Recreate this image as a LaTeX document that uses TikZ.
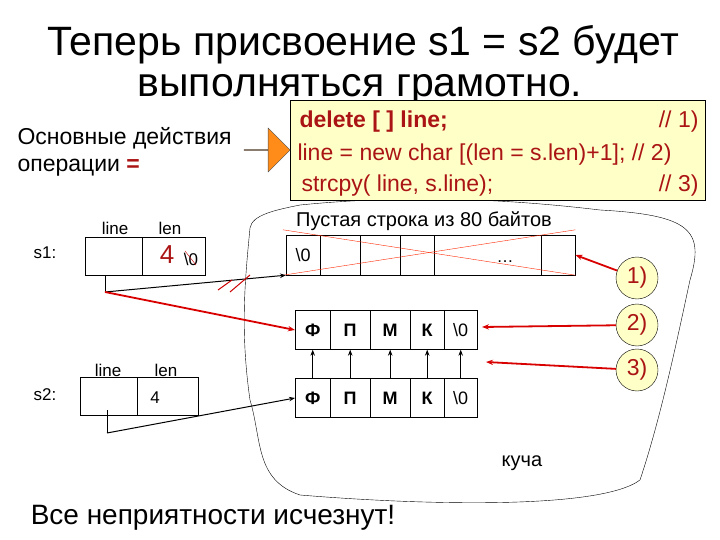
\documentclass[tikz,border=0pt]{standalone}
\usepackage{fontspec}
\setmainfont{Liberation Sans}
\usetikzlibrary{arrows.meta,shapes.arrows,calc}
\definecolor{dred}{RGB}{170,20,20}
\definecolor{lyel}{RGB}{255,255,200}
\tikzset{
 cell/.style={draw,inner sep=0,minimum height=39pt,anchor=west,font=\fontsize{18}{18}\selectfont\bfseries},
 ecell/.style={draw,inner sep=0,minimum height=40pt,anchor=west,font=\fontsize{18}{18}\selectfont},
 lbl/.style={font=\fontsize{17}{17}\selectfont},
 codet/.style={text=dred,font=\fontsize{23}{23}\selectfont},
 circ/.style={circle,draw,fill=lyel,minimum size=42pt,inner sep=0,text=dred,font=\fontsize{23}{23}\selectfont},
 redar/.style={draw=red!85!black,line width=1.8pt,-{Stealth[length=7pt]}},
 blkar/.style={draw,line width=1pt,-{Stealth[length=6pt]}},
}
\begin{document}
\begin{tikzpicture}[x=1pt,y=-1pt]
\useasboundingbox (0,0) rectangle (720,540);
\node (t1) at (363,45) {\fontsize{41}{41}\selectfont Теперь присвоение s1 = s2 будет};
\node (t2) at (360,90) {\fontsize{41}{41}\selectfont выполняться грамотно.};
% cloud
\draw[thin] (250,228) .. controls (252,215) and (275,210) .. (300,205)
 .. controls (400,195) and (500,198) .. (600,210) .. controls (690,215) and (705,230) .. (690,280)
 .. controls (675,350) and (660,420) .. (640,480) .. controls (600,510) and (420,505) .. (300,495)
 .. controls (255,480) and (262,440) .. (250,400) .. controls (240,330) and (245,280) .. (250,228) -- cycle;
% code box
\node[draw,fill=lyel,minimum width=415pt,minimum height=100pt,anchor=north west,inner sep=0] (code) at (290,100) {};
\node[anchor=west,codet,font=\fontsize{23}{23}\selectfont\bfseries] (c1) at (296,122) {delete [ ] line;};
\node[anchor=east,codet] (c1r) at (702,122) {// 1)};
\node[anchor=west,codet] (c2) at (294,155) {line = new char [(len = s.len)+1]; // 2)};
\node[anchor=west,codet] (c3) at (298,186) {strcpy( line, s.line);};
\node[anchor=east,codet] (c3r) at (702,186) {// 3)};
\node[single arrow,draw=black!70,fill=orange!90,minimum height=46pt,minimum width=44pt,single arrow head extend=11pt,inner sep=0] (oa) at (267,150) {};
\node[anchor=west,font=\fontsize{23}{23}\selectfont] (o1) at (14,138) {Основные действия};
\node[anchor=west,font=\fontsize{23}{23}\selectfont] (o2) at (14,168) {операции \textcolor{dred}{\textbf{=}}};
% s1
\node[ecell,minimum width=57pt,minimum height=38pt] (s1a) at (85,256) {};
\node[ecell,minimum width=63pt,minimum height=38pt] (s1b) at (142,256) {};
\node[lbl] (l1) at (115,228) {line};
\node[lbl] (l2) at (170,228) {len};
\node[lbl] (s1l) at (45,253) {s1:};
\node[text=dred,font=\fontsize{26}{26}\selectfont] (four) at (167,255) {4};
\node[lbl] (z) at (191,259) {\textbackslash 0};
\draw[red!80!black] (185,251) coordinate (zc1) -- (196,265) coordinate (zc2);
% s2
\node[ecell,minimum width=57pt,minimum height=38pt] (s2a) at (80,396) {};
\node[ecell,minimum width=61pt,minimum height=38pt] (s2b) at (137,396) {};
\node[lbl] (l3) at (108,370) {line};
\node[lbl] (l4) at (166,370) {len};
\node[lbl] (s2l) at (45,395) {s2:};
\node[lbl] (f2) at (155,398) {4};
% empty array
\node[ecell,minimum width=34pt] (e1) at (286,255) {\textbackslash 0};
\node[ecell,minimum width=40pt] (e2) at (320,255) {};
\node[ecell,minimum width=40pt] (e3) at (360,255) {};
\node[ecell,minimum width=34pt] (e4) at (400,255) {};
\node[ecell,minimum width=107pt] (e5) at (434,255) {};
\node[ecell,minimum width=34pt] (e6) at (541,255) {};
\node[lbl] (dots) at (505,262) {\dots};
\node[font=\fontsize{20}{20}\selectfont] (empt) at (424,221) {Пустая строка из 80 байтов};
\draw[red!70!orange] ($(e1.north west)+(-3,-5)$) coordinate (x1) -- (e6.south east) coordinate (x2);
\draw[red!70!orange] ($(e1.south west)+(-3,0)$) coordinate (x3) -- ($(e6.north east)+(0,-5)$) coordinate (x4);
% array 2 and 3
\foreach \n/\x/\w/\t in {1/295/35/Ф,2/330/40/П,3/370/40/М,4/410/34/К,5/444/33/{\mdseries\textbackslash 0}}{
 \node[cell,minimum width=\w pt] (a\n) at (\x,330) {\t};
 \node[cell,minimum width=\w pt] (b\n) at (\x,398) {\t};
 \draw[blkar,line width=0.8pt] (b\n.north) -- (a\n.south);
}
% pointers
\coordinate (p1) at (105,292);
\draw[line width=1pt] (105,275) -- (p1);
\draw[blkar] (p1) -- (e1.south west);
\draw[red!80!black,line width=1pt] (218,290) -- (232,280) (230,292) -- (250,275);
\draw[redar] (p1) -- (a1.west);
\coordinate (p2) at (107,433);
\draw[line width=1pt] (107,410) -- (p2);
\draw[blkar] (p2) -- (b1.west);
% circles
\node[circ] (n1) at (637,278) {1)};
\node[circ] (n2) at (637,325) {2)};
\node[circ] (n3) at (637,370) {3)};
\draw[redar] (n1) -- (e6.east);
\draw[redar] (n2) -- (482,327);
\draw[redar] (n3) -- (486,362);
\node[font=\fontsize{20}{20}\selectfont] (heap) at (522,463) {куча};
\node[font=\fontsize{28}{28}\selectfont] (bot) at (213,518) {Все неприятности исчезнут!};
\end{tikzpicture}
\end{document}
